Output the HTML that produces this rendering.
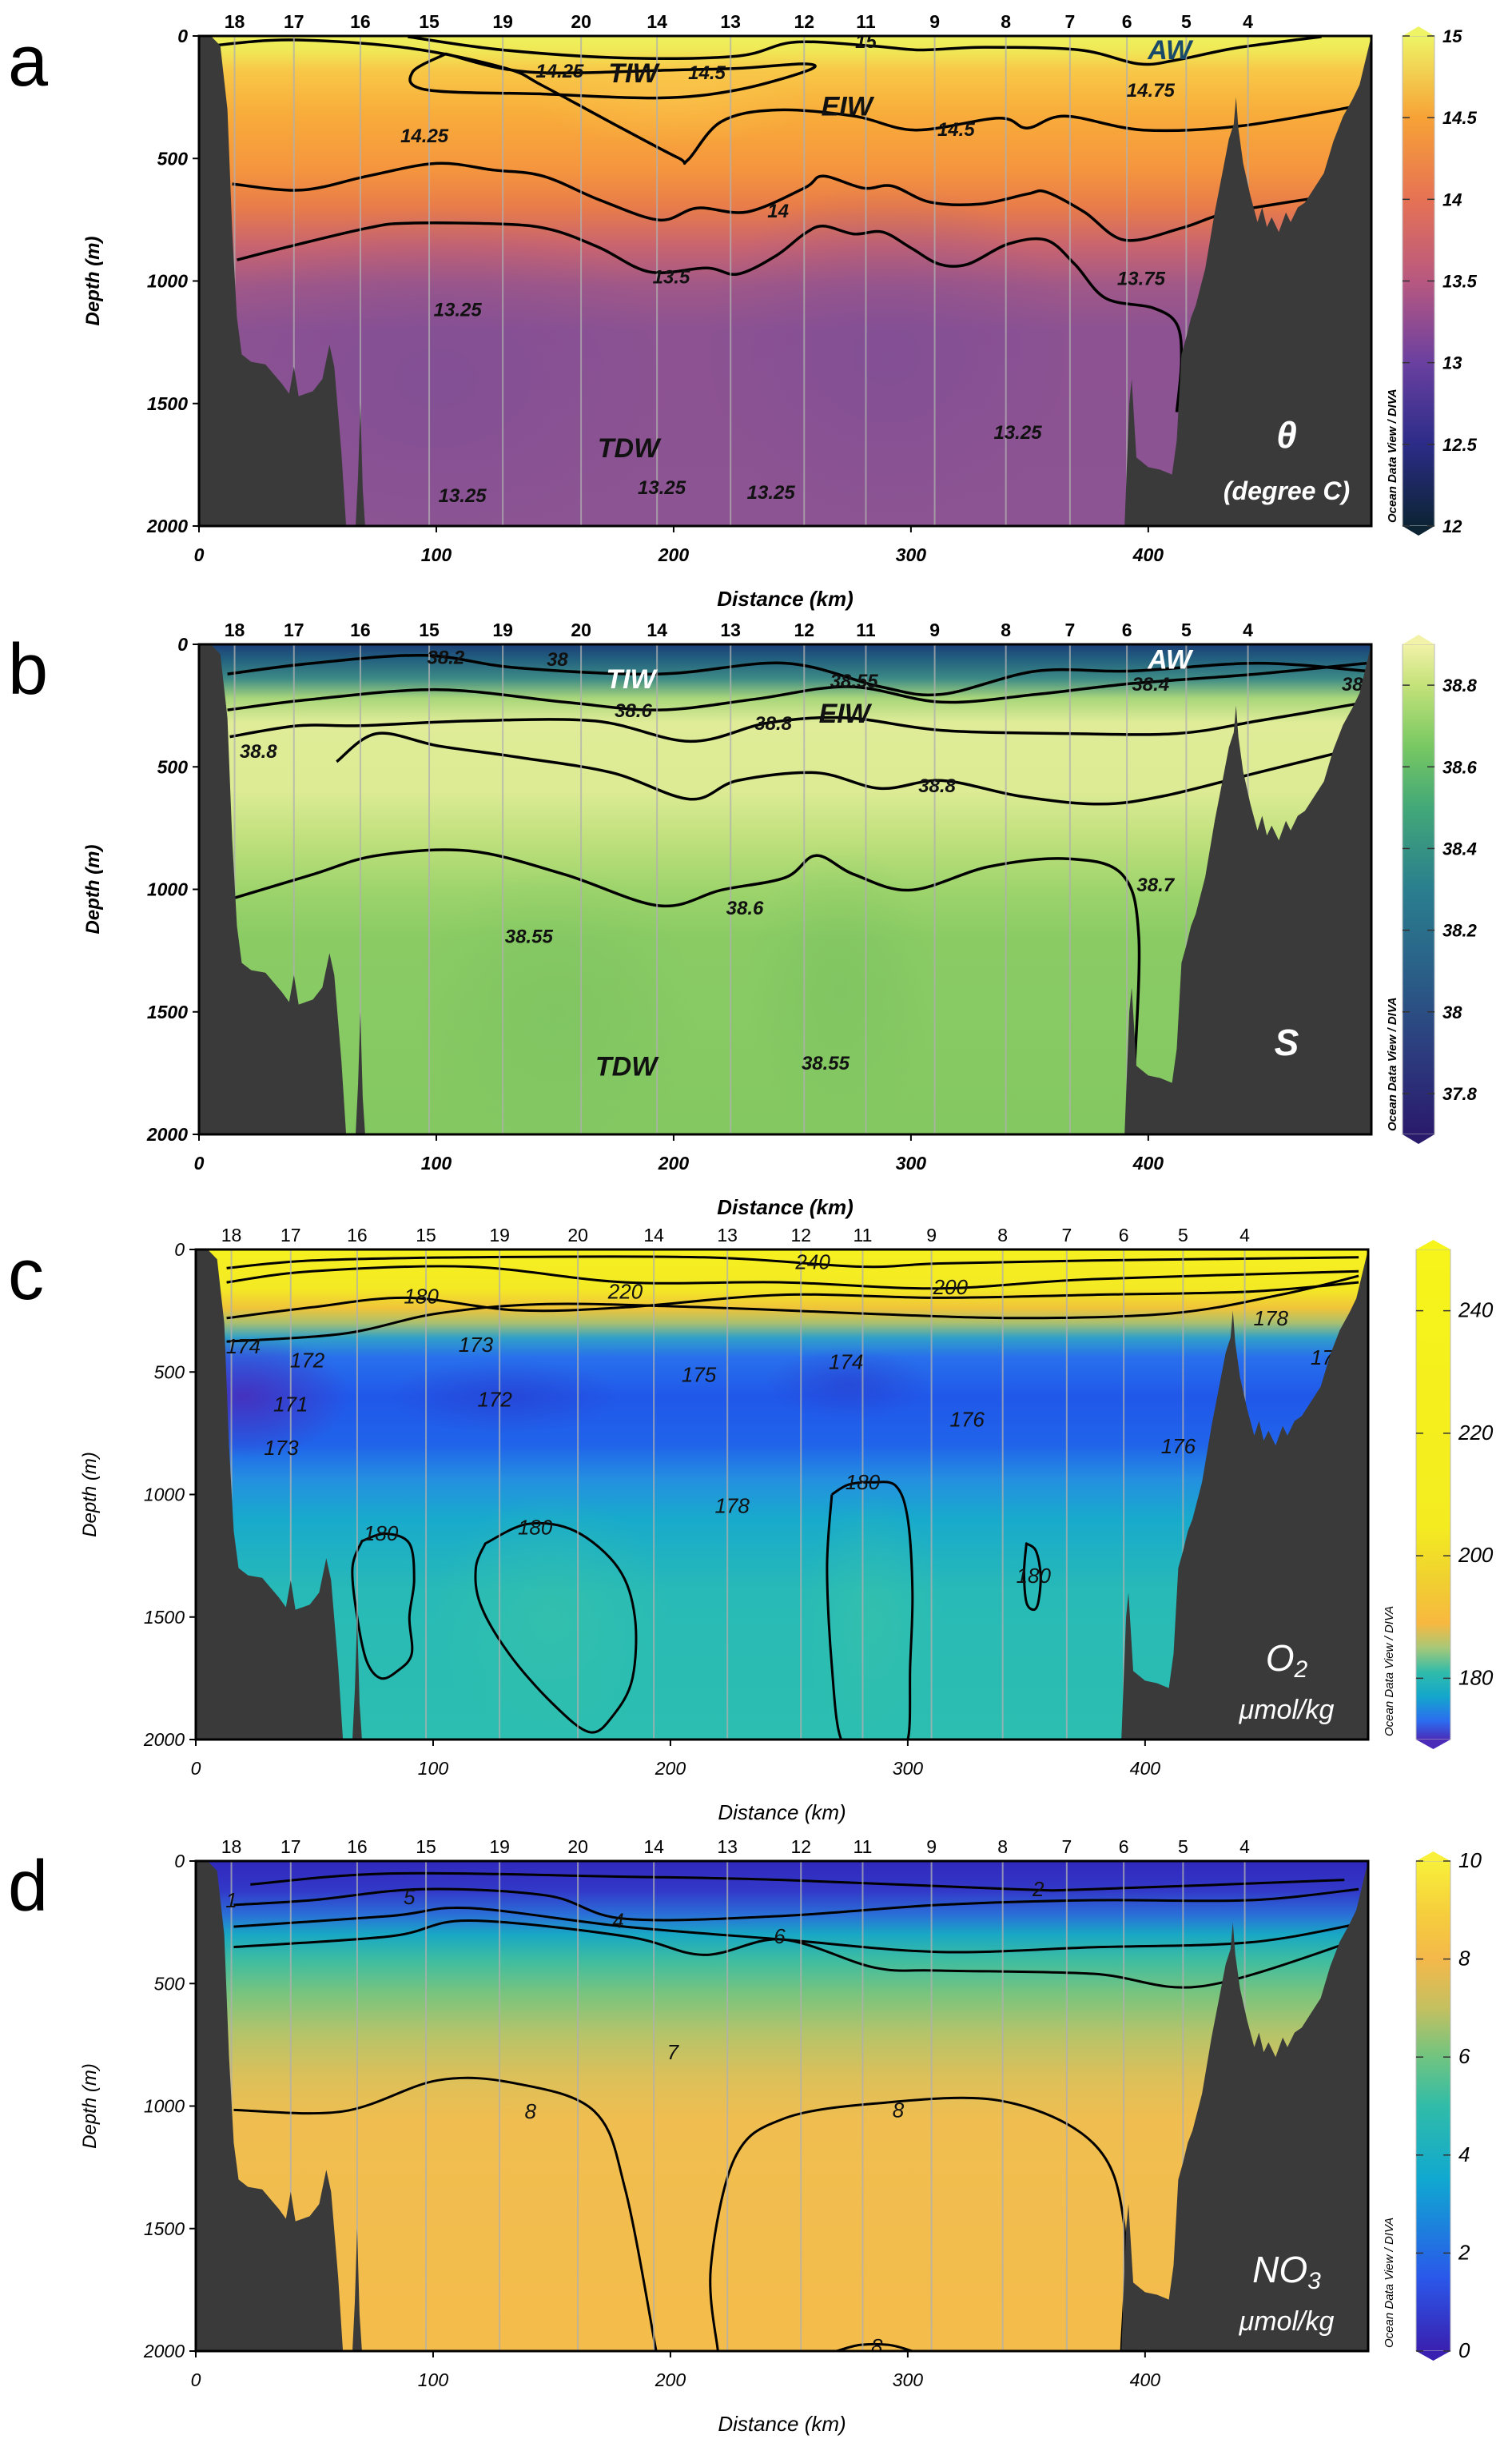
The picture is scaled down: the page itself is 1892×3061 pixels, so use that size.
<!DOCTYPE html>
<html><head><meta charset="utf-8"><style>
html,body{margin:0;padding:0;background:#fff;}
svg{display:block;}
</style></head>
<body>
<svg id="fig" xmlns="http://www.w3.org/2000/svg" width="1892" height="3061" viewBox="0 0 1892 3061"></svg>
<script>
// ---------------- shared data ----------------
const stationIds = ["18","17","16","15","19","20","14","13","12","11","9","8","7","6","5","4"];
const stationKm  = [15,40,68,97,128,161,193,224,255,281,310,340,367,391,416,442];
const xTicks = [0,100,200,300,400];
const yTicks = [0,500,1000,1500,2000];
// bathymetry (km, depth m)
const bathyLeftKm    = [0,0,5,9,12,14,16,18,22,28,35,38,40,42,48,52,55,57,60,62,64,66,67,68,69,70,70];
const bathyLeftDepth = [2000,0,0,40,300,800,1150,1300,1330,1340,1420,1460,1350,1470,1450,1400,1260,1350,1700,2000,2000,2000,1800,1500,1850,2000,2000];
const bathyRightKm    = [388,390,392,393,395,400,405,410,412,414,416,418,420,424,428,432,434,436,437,438,440,443,446,448,450,452,455,458,460,463,466,470,474,478,482,486,489,491,493,494,494];
const bathyRightDepth = [2000,2000,1500,1400,1720,1760,1770,1790,1650,1300,1230,1150,1100,950,720,520,420,360,250,380,520,650,760,700,780,740,800,720,760,700,680,620,560,430,330,260,200,120,40,0,2000];

// ---------------- panel a: theta ----------------
const aC1Km=[88,128,180,227,251,284,304,331,371,396,412,437,473];
const aC1D =[3,57,90,82,25,41,57,46,57,114,98,49,3];
const aC2Km=[104,139,200,229,255,257,227,194,145,96,90,104];
const aC2D =[73,147,139,131,114,139,220,253,237,220,147,73];
const aC3Km=[4,39,88,129,145,178,202,206,220,243,276,302,337,349,365,398,439,488];
const aC3D =[41,16,49,131,204,376,498,506,350,302,327,384,335,376,327,384,367,286];
const aC4Km=[14,43,71,100,124,145,169,194,210,231,255,263,280,292,308,329,349,357,373,390,414,435,476];
const aC4D =[604,629,572,520,547,572,670,751,702,718,621,572,621,612,678,686,645,637,718,833,784,718,653];
const aC5Km=[16,39,71,88,129,149,169,190,214,227,243,255,263,276,288,300,312,324,341,357,369,382,402,412,414,412];
const aC5D =[914,857,784,764,768,792,865,963,947,972,898,808,776,808,800,865,931,931,849,833,931,1070,1110,1176,1323,1535];
const aLabTxt=["15","14.25","14.5","14.75","14.5","14.25","14","13.5","13.75","13.25","13.25","13.25","13.25","13.25"];
const aLabKm =[281,152,214,401,319,95,244,199,397,109,345,111,195,241];
const aLabD  =[20,141,147,218,378,404,712,981,987,1115,1615,1872,1840,1859];
const aCbTicks=[12,12.5,13,13.5,14,14.5,15];

// ---------------- panel b: salinity ----------------
const bC1Km=[12,48,95,134,194,247,287,313,353,393,446,492];
const bC1D =[121,77,45,96,121,77,173,204,109,109,77,109];
const bC2Km=[12,48,101,154,194,234,274,313,353,393,446,492];
const bC2D =[268,224,185,236,268,224,173,236,204,160,121,77];
const bC3Km=[13,42,68,114,167,207,240,273,313,366,412,446,492];
const bC3D =[377,332,332,313,313,396,320,300,351,364,364,313,236];
const bC4Km=[58,75,101,134,174,207,227,260,287,313,346,379,406,446,486];
const bC4D =[479,364,415,460,524,632,556,524,588,556,620,652,620,524,428];
const bC5Km=[15,48,75,114,154,194,220,247,260,276,300,333,366,389,396,394];
const bC5D =[1035,939,862,843,939,1067,1003,952,862,939,1003,907,875,939,1195,1770];
const bLabTxt=["38.2","38","38.55","38.4","38.6","38.8","38.8","38.8","38.7","38.6","38.55","38.55","38"];
const bLabKm =[104,151,276,401,183,242,25,311,403,230,139,264,486];
const bLabD  =[51,58,147,160,268,320,434,575,978,1073,1189,1706,160];
const bCbTicks=[37.8,38,38.2,38.4,38.6,38.8];

// ---------------- panel c: oxygen ----------------
const cC1Km=[13,49,115,214,280,313,378,490];
const cC1D =[76,45,32,32,70,57,45,32];
const cC2Km=[13,49,115,181,247,313,378,490];
const cC2D =[134,89,70,134,134,159,121,89];
const cC3Km=[13,49,89,135,181,247,313,378,444,490];
const cC3D =[280,236,197,248,236,185,197,185,172,134];
const cC4Km=[13,62,102,148,214,280,345,411,457,490];
const cC4D =[376,344,261,223,236,261,280,261,185,108];
const cB1Km=[70,80,90,92,90,91,85,78,72,68,66,70];
const cB1D =[1190,1160,1200,1350,1500,1650,1720,1750,1680,1500,1300,1190];
const cB2Km=[122,140,160,178,185,184,176,166,150,132,120,118,122];
const cB2D =[1200,1120,1150,1300,1500,1750,1900,1970,1850,1650,1450,1300,1200];
const cB3Km=[268,275,285,295,300,302,301,300,292,282,272,268,266,268];
const cB3D =[1000,960,950,965,1100,1400,1700,2000,2010,2010,2000,1700,1300,1000];
const cB4Km=[350,354,356,355,353,350,349,350];
const cB4D =[1200,1230,1330,1440,1470,1440,1320,1200];
const cLabTxt=["240","220","200","180","178","174","172","173","172","175","174","176","176","171","173","178","180","180","180","180","173"];
const cLabKm =[260,181,318,95,453,20,47,118,126,212,274,325,414,40,36,226,281,78,143,353,477];
const cLabD  =[51,172,153,191,280,395,452,389,611,510,459,694,803,631,809,1045,949,1159,1134,1331,440];
const cCbTicks=[180,200,220,240];

// ---------------- panel d: nitrate ----------------
const dC1Km=[23,82,181,247,345,378,484];
const dC1D =[96,51,64,77,115,115,77];
const dC2Km=[16,49,95,148,181,247,313,378,444,490];
const dC2D =[179,160,115,141,236,224,179,160,160,115];
const dC3Km=[16,82,115,181,247,313,378,444,490];
const dC3D =[268,224,192,268,320,371,352,332,256];
const dC4Km=[16,82,115,181,214,247,286,313,378,424,490];
const dC4D =[351,307,243,307,383,320,435,447,460,511,320];
const dC5Km=[16,62,102,135,168,181,194];
const dC5D =[1016,1022,895,908,1022,1342,2000];
const dC6Km=[220,217,227,247,286,339,378,391,390];
const dC6D =[2000,1661,1214,1054,990,978,1150,1470,2000];
const dC7Km=[270,280,292,302];
const dC7D =[2000,1975,1975,2000];
const dLabTxt=["1","5","4","2","6","7","8","8","8"];
const dLabKm =[15,90,178,355,246,201,141,296,287];
const dLabD  =[160,147,243,115,307,780,1022,1016,1981];
const dCbTicks=[0,2,4,6,8,10];

// ---------------- drawing helpers ----------------
const NS="http://www.w3.org/2000/svg";
const svg=document.getElementById('fig');
function mk(tag,attrs,parent){const e=document.createElementNS(NS,tag);for(const k in attrs)e.setAttribute(k,attrs[k]);(parent||svg).appendChild(e);return e;}
function smooth(pts,closed){
  if(pts.length<2)return "";
  let d="M"+pts[0][0].toFixed(1)+","+pts[0][1].toFixed(1);
  const n=pts.length;
  for(let i=0;i<n-1;i++){
    const p0=pts[Math.max(i-1,0)],p1=pts[i],p2=pts[i+1],p3=pts[Math.min(i+2,n-1)];
    const c1=[p1[0]+(p2[0]-p0[0])/6,p1[1]+(p2[1]-p0[1])/6];
    const c2=[p2[0]-(p3[0]-p1[0])/6,p2[1]-(p3[1]-p1[1])/6];
    d+="C"+c1[0].toFixed(1)+","+c1[1].toFixed(1)+" "+c2[0].toFixed(1)+","+c2[1].toFixed(1)+" "+p2[0].toFixed(1)+","+p2[1].toFixed(1);
  }
  if(closed)d+="Z";
  return d;
}

function panel(cfg){
  const L=cfg.L,T=cfg.T,W=1467,H=613,KM=494,DM=2000;
  const sx=k=>L+k/KM*W, sy=d=>T+d/DM*H;
  const g=mk('g',{});
  
  
  const defs=mk('defs',{},g);
  const gid=cfg.name+'-grad';
  const lg=mk('linearGradient',{id:gid,x1:0,y1:0,x2:0,y2:1},defs);
  cfg.stops.forEach(s=>mk('stop',{offset:s[0],'stop-color':s[1]},lg));
  const cid=cfg.name+'-clip';
  const cp=mk('clipPath',{id:cid},defs);
  mk('rect',{x:L,y:T,width:W,height:H},cp);
  const field=mk('rect',{x:L,y:T,width:W,height:H,fill:'url(#'+gid+')'},g);
  
  
  const cg=mk('g',{'clip-path':'url(#'+cid+')'},g);
  (cfg.blobs||[]).forEach((b,i)=>{
    const rid=cfg.name+'-rg'+i;
    const rg=mk('radialGradient',{id:rid},defs);
    mk('stop',{offset:0,'stop-color':b[4],'stop-opacity':b[5]},rg);
    mk('stop',{offset:1,'stop-color':b[4],'stop-opacity':0},rg);
    const e=mk('ellipse',{cx:sx(b[0]),cy:sy(b[1]),rx:b[2]/KM*W,ry:b[3]/DM*H,fill:'url(#'+rid+')'},cg);
    
    
  });
  cfg.contours.forEach(c=>{
    const pts=c.km.map((k,i)=>[sx(k),sy(c.d[i])]);
    const p=mk('path',{d:smooth(pts,c.closed),fill:'none',stroke:'#000','stroke-width':c.w||3.5,'stroke-linejoin':'round'},cg);
    
    
  });
  stationKm.forEach((k,i)=>{
    const ln=mk('line',{x1:sx(k),y1:T,x2:sx(k),y2:T+H,stroke:'#b0b0b0','stroke-width':2,opacity:0.75},cg);
    
    
  });
  cfg.labTxt.forEach((t,i)=>{
    const tx=mk('text',{x:sx(cfg.labKm[i]),y:sy(cfg.labD[i])+9,'text-anchor':'middle','font-size':cfg.labSize,'font-style':'italic','font-weight':cfg.bold?'bold':'normal',fill:'#111','font-family':'Liberation Sans, sans-serif'},cg);
    tx.textContent=t;
    
    
  });
  const lp=bathyLeftKm.map((k,i)=>sx(k).toFixed(1)+","+sy(bathyLeftDepth[i]).toFixed(1)).join(" ");
  const bl=mk('polygon',{points:lp,fill:'#3a3a3a'},cg);
  
  
  const rp=bathyRightKm.map((k,i)=>sx(k).toFixed(1)+","+sy(bathyRightDepth[i]).toFixed(1)).join(" ");
  const br=mk('polygon',{points:rp,fill:'#3a3a3a'},cg);
  
  
  (cfg.masses||[]).forEach(m=>{
    const t=mk('text',{x:sx(m[1]),y:sy(m[2]),'text-anchor':'middle','font-size':34,'font-style':'italic','font-weight':'bold',fill:m[3],'font-family':'Liberation Sans, sans-serif'},cg);
    t.textContent=m[0];
    
    
  });
  cfg.legend.forEach(m=>{
    const t=mk('text',{x:m[1],y:m[2],'text-anchor':'middle','font-size':m[3],'font-style':'italic','font-weight':cfg.bold?'bold':'normal',fill:'#fff','font-family':'Liberation Sans, sans-serif'},g);
    t.innerHTML=m[0];
    
    
  });
  const fr=mk('rect',{x:L,y:T,width:W,height:H,fill:'none',stroke:'#000','stroke-width':3},g);
  
  
  const fw=cfg.bold?'bold':'normal';
  stationIds.forEach((s,i)=>{
    const t=mk('text',{x:sx(stationKm[i]),y:T-10,'text-anchor':'middle','font-size':23,'font-weight':fw,'font-family':'Liberation Sans, sans-serif',fill:'#000'},g);
    t.textContent=s;
    
    
  });
  yTicks.forEach(v=>{
    mk('line',{x1:L-8,y1:sy(v),x2:L,y2:sy(v),stroke:'#000','stroke-width':2},g);
    const t=mk('text',{x:L-14,y:sy(v)+8,'text-anchor':'end','font-size':23,'font-weight':fw,'font-style':'italic','font-family':'Liberation Sans, sans-serif'},g);
    t.textContent=v;
    
    
  });
  xTicks.forEach(v=>{
    mk('line',{x1:sx(v),y1:T+H,x2:sx(v),y2:T+H+8,stroke:'#000','stroke-width':2},g);
    const t=mk('text',{x:sx(v),y:T+H+44,'text-anchor':'middle','font-size':23,'font-weight':fw,'font-style':'italic','font-family':'Liberation Sans, sans-serif'},g);
    t.textContent=v;
    
    
  });
  const yt=mk('text',{x:0,y:0,transform:'translate('+(L-125)+','+(T+H/2)+') rotate(-90)','text-anchor':'middle','font-size':24,'font-weight':fw,'font-style':'italic','font-family':'Liberation Sans, sans-serif'},g);
  yt.textContent='Depth (m)';
  
  
  const xt=mk('text',{x:L+W/2,y:T+H+100,'text-anchor':'middle','font-size':26,'font-weight':fw,'font-style':'italic','font-family':'Liberation Sans, sans-serif'},g);
  xt.textContent='Distance (km)';
  
  
  const pl=mk('text',{x:10,y:T+62,'font-size':90,'font-family':'Liberation Sans, sans-serif'},g);
  pl.textContent=cfg.letter;
  
  
  const od=mk('text',{x:0,y:0,transform:'translate('+(L+W+31)+','+(T+H-4)+') rotate(-90)','font-size':15,'font-style':'italic','font-weight':fw,'font-family':'Liberation Sans, sans-serif'},g);
  od.textContent='Ocean Data View / DIVA';
  
  
  const cbx=cfg.cbX,cbw=cfg.cbW;
  const cy=v=>T+H-(v-cfg.cbMin)/(cfg.cbMax-cfg.cbMin)*H;
  const cgid=cfg.name+'-cbgrad';
  const cl=mk('linearGradient',{id:cgid,x1:0,y1:1,x2:0,y2:0},defs);
  cfg.cbStops.forEach(s=>mk('stop',{offset:(s[0]-cfg.cbMin)/(cfg.cbMax-cfg.cbMin),'stop-color':s[1]},cl));
  const cb=mk('rect',{x:cbx,y:T,width:cbw,height:H,fill:'url(#'+cgid+')',stroke:'#bbb','stroke-width':1},g);
  
  
  mk('polygon',{points:cbx+','+T+' '+(cbx+cbw/2)+','+(T-12)+' '+(cbx+cbw)+','+T,fill:cfg.cbStops[cfg.cbStops.length-1][1]},g);
  mk('polygon',{points:cbx+','+(T+H)+' '+(cbx+cbw/2)+','+(T+H+12)+' '+(cbx+cbw)+','+(T+H),fill:cfg.cbStops[0][1]},g);
  cfg.cbTicks.forEach(v=>{
    mk('line',{x1:cbx,y1:cy(v),x2:cbx+9,y2:cy(v),stroke:'#333','stroke-width':1.5},g);
    mk('line',{x1:cbx+cbw-9,y1:cy(v),x2:cbx+cbw,y2:cy(v),stroke:'#333','stroke-width':1.5},g);
    const t=mk('text',{x:cbx+cbw+10,y:cy(v)+8,'font-size':cfg.bold?22:26,'font-weight':fw,'font-style':'italic','font-family':'Liberation Sans, sans-serif'},g);
    t.textContent=v;
    
    
  });
}

panel({name:'panel-a-theta',letter:'a',L:249,T:45,bold:true,labSize:24,
  stops:[[0,'#eef25c'],[0.03,'#f0e856'],[0.07,'#f8c848'],[0.16,'#f8ac3a'],[0.27,'#f5963e'],[0.35,'#e87c4a'],[0.43,'#c86470'],[0.51,'#a05888'],[0.6,'#8c5292'],[1,'#8c5492']],
  blobs:[[100,1400,100,700,'#7a4c98',0.5],[290,1300,80,700,'#7a4c98',0.5],[200,250,60,200,'#fbc850',0.5]],
  contours:[{km:aC1Km,d:aC1D},{km:aC2Km,d:aC2D,closed:true},{km:aC3Km,d:aC3D},{km:aC4Km,d:aC4D},{km:aC5Km,d:aC5D}],
  labTxt:aLabTxt,labKm:aLabKm,labD:aLabD,
  masses:[['TIW',183,190,'#111'],['EIW',273,325,'#111'],['AW',409,95,'#1a4a6a'],['TDW',181,1720,'#111']],
  legend:[['θ',1610,560,46],['(degree C)',1610,625,32]],
  cbX:1755,cbW:40,cbMin:12,cbMax:15,cbTicks:aCbTicks,
  cbStops:[[12,'#0c2434'],[12.5,'#2c2c88'],[13,'#6a40a0'],[13.5,'#b85880'],[14,'#e67254'],[14.5,'#f7a236'],[15,'#eef466']]
});
panel({name:'panel-b-salinity',letter:'b',L:249,T:806,bold:true,labSize:24,
  stops:[[0,'#1c3f78'],[0.03,'#22607f'],[0.07,'#3d8a86'],[0.11,'#a8d67a'],[0.16,'#e0ec98'],[0.3,'#dceb94'],[0.4,'#bfe07c'],[0.5,'#9ed46c'],[0.6,'#8acb64'],[1,'#84c862']],
  blobs:[[150,1500,60,600,'#78c060',0.5],[270,1400,40,600,'#78c060',0.5]],
  contours:[{km:bC1Km,d:bC1D},{km:bC2Km,d:bC2D},{km:bC3Km,d:bC3D},{km:bC4Km,d:bC4D},{km:bC5Km,d:bC5D}],
  labTxt:bLabTxt,labKm:bLabKm,labD:bLabD,
  masses:[['TIW',182,180,'#fff'],['EIW',272,320,'#111'],['AW',409,100,'#fff'],['TDW',180,1760,'#111']],
  legend:[['S',1610,1320,46]],
  cbX:1755,cbW:40,cbMin:37.7,cbMax:38.9,cbTicks:bCbTicks,
  cbStops:[[37.7,'#2a1a6c'],[37.9,'#2c3c7e'],[38.1,'#2a6088'],[38.3,'#2a7e8e'],[38.5,'#42a878'],[38.65,'#78c862'],[38.8,'#c4e27a'],[38.9,'#f2f2a8']]
});
panel({name:'panel-c-oxygen',letter:'c',L:245,T:1563,bold:false,labSize:26,
  stops:[[0,'#f6f020'],[0.08,'#f4ea24'],[0.12,'#f0c43a'],[0.15,'#a8c070'],[0.18,'#30a0c8'],[0.22,'#2870ec'],[0.3,'#2058ea'],[0.4,'#2064ea'],[0.47,'#2490e0'],[0.55,'#18aacc'],[0.7,'#28bab6'],[1,'#2cbeb0']],
  blobs:[[20,600,45,250,'#4a2cb8',0.85],[130,600,50,150,'#2a3ccc',0.6],[275,550,35,150,'#2a3ccc',0.6],[150,1500,50,500,'#3cc4a6',0.5],[285,1500,30,500,'#3cc4a6',0.5]],
  contours:[{km:cC1Km,d:cC1D,w:3},{km:cC2Km,d:cC2D,w:3},{km:cC3Km,d:cC3D,w:3},{km:cC4Km,d:cC4D,w:3},{km:cB1Km,d:cB1D,closed:true,w:3},{km:cB2Km,d:cB2D,closed:true,w:3},{km:cB3Km,d:cB3D,w:3},{km:cB4Km,d:cB4D,closed:true,w:3}],
  labTxt:cLabTxt,labKm:cLabKm,labD:cLabD,
  legend:[['O<tspan font-size="30" dy="8">2</tspan>',1610,2090,46],['μmol/kg',1610,2150,34]],
  cbX:1772,cbW:43,cbMin:170,cbMax:250,cbTicks:cCbTicks,
  cbStops:[[170,'#4a2cb8'],[173,'#2c6cf0'],[177,'#14a6cc'],[181,'#30bcaa'],[185,'#a8c878'],[189,'#f8b840'],[196,'#f0d030'],[205,'#f4ec20'],[250,'#f6f41a']]
});
panel({name:'panel-d-nitrate',letter:'d',L:245,T:2328,bold:false,labSize:26,
  stops:[[0,'#3028bc'],[0.06,'#3238c8'],[0.11,'#2a70d8'],[0.15,'#18a8c4'],[0.2,'#3cbca2'],[0.27,'#78c47e'],[0.35,'#b4c46a'],[0.44,'#dcc05a'],[0.53,'#f0be50'],[1,'#f4bc4a']],
  blobs:[],
  contours:[{km:dC1Km,d:dC1D,w:3},{km:dC2Km,d:dC2D,w:3},{km:dC3Km,d:dC3D,w:3},{km:dC4Km,d:dC4D,w:3},{km:dC5Km,d:dC5D,w:3},{km:dC6Km,d:dC6D,w:3},{km:dC7Km,d:dC7D,w:3}],
  labTxt:dLabTxt,labKm:dLabKm,labD:dLabD,
  legend:[['NO<tspan font-size="30" dy="8">3</tspan>',1610,2855,46],['μmol/kg',1610,2915,34]],
  cbX:1772,cbW:43,cbMin:0,cbMax:10,cbTicks:dCbTicks,
  cbStops:[[0,'#3a20b0'],[1.5,'#2a58ea'],[3.5,'#10a8d0'],[5,'#30bca8'],[6,'#70c480'],[7,'#c4c060'],[8,'#f4b84a'],[9,'#f6d03c'],[10,'#f8f03a']]
});
</script>
</body></html>
